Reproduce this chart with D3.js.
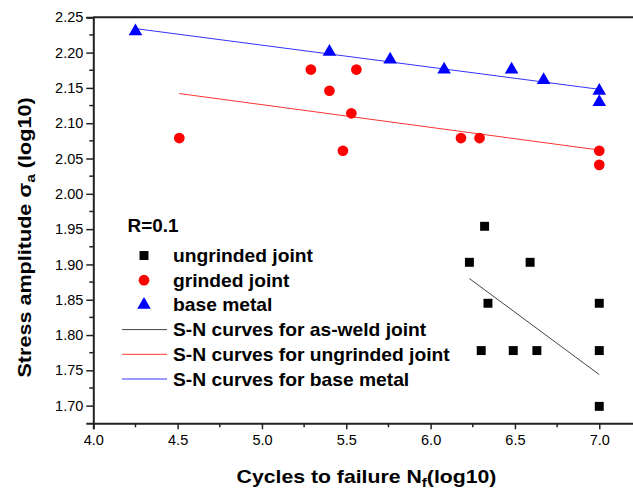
<!DOCTYPE html>
<html>
<head>
<meta charset="utf-8">
<script src="https://cdn.jsdelivr.net/npm/d3@7"></script>
<style>
  body { margin: 0; background: #fff; }
  text { font-family: "Liberation Sans", Arial, sans-serif; fill: #000; }
</style>
</head>
<body>
<svg id="chart" width="633" height="490"></svg>
<script>
// ungrinded joint (black squares)
const ungrindX = [6.32, 6.23, 6.59, 6.34, 7.0, 6.30, 6.49, 6.63, 7.0, 7.0]
const ungrindY = [1.954, 1.903, 1.903, 1.845, 1.845, 1.778, 1.778, 1.778, 1.778, 1.699]
// grinded joint (red circles)
const grindX = [4.51, 5.29, 5.40, 5.56, 5.53, 5.48, 6.18, 6.29, 7.0, 7.0]
const grindY = [2.079, 2.176, 2.146, 2.176, 2.114, 2.061, 2.079, 2.079, 2.061, 2.041]
// base metal (blue triangles)
const baseX = [4.25, 5.40, 5.76, 6.08, 6.48, 6.67, 7.0, 7.0]
const baseY = [2.230, 2.201, 2.190, 2.176, 2.176, 2.161, 2.146, 2.130]

// S-N fit lines (end points)
const fitWeldX = [6.23, 7.0], fitWeldY = [1.880, 1.744]
const fitUngrindX = [4.51, 7.0], fitUngrindY = [2.142, 2.062]
const fitBaseX = [4.25, 7.0], fitBaseY = [2.234, 2.148]

const xTicks = [4.0, 4.5, 5.0, 5.5, 6.0, 6.5, 7.0]
const yTicks = [1.70, 1.75, 1.80, 1.85, 1.90, 1.95, 2.00, 2.05, 2.10, 2.15, 2.20, 2.25]

const legendLabels = ['ungrinded joint', 'grinded joint', 'base metal',
    'S-N curves for as-weld joint', 'S-N curves for ungrinded joint', 'S-N curves for base metal']

const svg = d3.select('#chart')

// scales //
const xScale = d3.scaleLinear().domain([4, 7.5]).range([93.3, 683.6])
const yScale = d3.scaleLinear().domain([1.675, 2.25]).range([423.3, 17.3])

// minor ticks //
const xMinor = d3.range(4.25, 7.0, 0.5)
const yMinor = d3.range(1.725, 2.25, 0.05)

const gx = svg.append('g').attr('transform', `translate(0, ${yScale(1.675)})`)
gx.call(d3.axisBottom(xScale).tickValues(xTicks).tickFormat(d3.format('.1f')).tickSizeOuter(0).tickSize(6).tickPadding(5))
gx.append('g').selectAll('line').data(xMinor).join('line')
    .attr('x1', d => xScale(d)).attr('x2', d => xScale(d))
    .attr('y1', 0).attr('y2', 4).attr('stroke', '#222').attr('stroke-width', 1.5)

const gy = svg.append('g').attr('transform', `translate(${xScale(4)}, 0)`)
gy.call(d3.axisLeft(yScale).tickValues(yTicks).tickFormat(d3.format('.2f')).tickSizeOuter(0).tickSize(7).tickPadding(3))
gy.append('g').selectAll('line').data(yMinor).join('line')
    .attr('x1', 0).attr('x2', -4)
    .attr('y1', d => yScale(d)).attr('y2', d => yScale(d)).attr('stroke', '#222').attr('stroke-width', 1.5)

svg.selectAll('.domain').attr('stroke', '#222').attr('stroke-width', 2)
svg.selectAll('.tick line').attr('stroke', '#222').attr('stroke-width', 1.5)
svg.selectAll('.tick text').style('font-size', '14.5px').attr('fill', '#111')

// top frame //
svg.append('line')
    .attr('x1', xScale(4)).attr('x2', xScale(7.5))
    .attr('y1', yScale(2.25)).attr('y2', yScale(2.25))
    .attr('stroke', '#222').attr('stroke-width', 2)

// fit lines //
const line = d3.line().x(d => xScale(d[0])).y(d => yScale(d[1]))
const fits = [
    { x: fitWeldX, y: fitWeldY, color: '#444444' },
    { x: fitUngrindX, y: fitUngrindY, color: '#ff3333' },
    { x: fitBaseX, y: fitBaseY, color: '#3333ff' }
]
fits.forEach(f => {
    svg.append('path')
        .attr('d', line(d3.zip(f.x, f.y)))
        .attr('fill', 'none').attr('stroke', f.color).attr('stroke-width', 1)
})

// markers //
const series = [
    { x: ungrindX, y: ungrindY, symbol: d3.symbolSquare, size: 80, color: '#000' },
    { x: grindX, y: grindY, symbol: d3.symbolCircle, size: 90, color: '#ff0000' },
    { x: baseX, y: baseY, symbol: d3.symbolTriangle, size: 80, color: '#0000ff' }
]
series.forEach(s => {
    svg.append('g').selectAll('path').data(d3.zip(s.x, s.y)).join('path')
        .attr('d', d3.symbol().type(s.symbol).size(s.size))
        .attr('transform', d => `translate(${xScale(d[0])}, ${yScale(d[1])})`)
        .attr('fill', s.color)
})

// legend //
svg.append('text')
    .attr('transform', 'translate(127.5, 231.5) scale(1.05, 1)')
    .style('font-size', '18px').style('font-weight', 'bold')
    .text('R=0.1')

const legend = svg.append('g').attr('transform', 'translate(144, 255.5)')
const rowH = 24.7
legendLabels.forEach((label, i) => {
    const row = legend.append('g').attr('transform', `translate(0, ${i * rowH})`)
    if (i < 3) {
        row.append('path')
            .attr('d', d3.symbol().type(series[i].symbol).size(series[i].size))
            .attr('fill', series[i].color)
    } else {
        row.append('line')
            .attr('x1', -22).attr('x2', 23).attr('y1', 0).attr('y2', 0)
            .attr('stroke', fits[i - 3].color).attr('stroke-width', 1)
    }
    row.append('text')
        .attr('transform', 'translate(29, 6.5) scale(1.1, 1)')
        .style('font-size', '17.5px').style('font-weight', 'bold')
        .text(label)
})

// axis titles //
const xTitle = svg.append('text')
    .attr('transform', 'translate(366.5, 483) scale(1.18, 1)')
    .attr('text-anchor', 'middle')
    .style('font-size', '18px').style('font-weight', 'bold')
xTitle.append('tspan').text('Cycles to failure N')
xTitle.append('tspan').attr('dy', 4).style('font-size', '13px').text('f')
xTitle.append('tspan').attr('dy', -4).text('(log10)')

const yTitle = svg.append('text')
    .attr('transform', 'translate(31, 237.5) rotate(-90) scale(1.2, 1)')
    .attr('text-anchor', 'middle')
    .style('font-size', '18px').style('font-weight', 'bold')
yTitle.append('tspan').text('Stress amplitude σ')
yTitle.append('tspan').attr('dy', 4).style('font-size', '13px').text('a')
yTitle.append('tspan').attr('dy', -4).text(' (log10)')
</script>
</body>
</html>
